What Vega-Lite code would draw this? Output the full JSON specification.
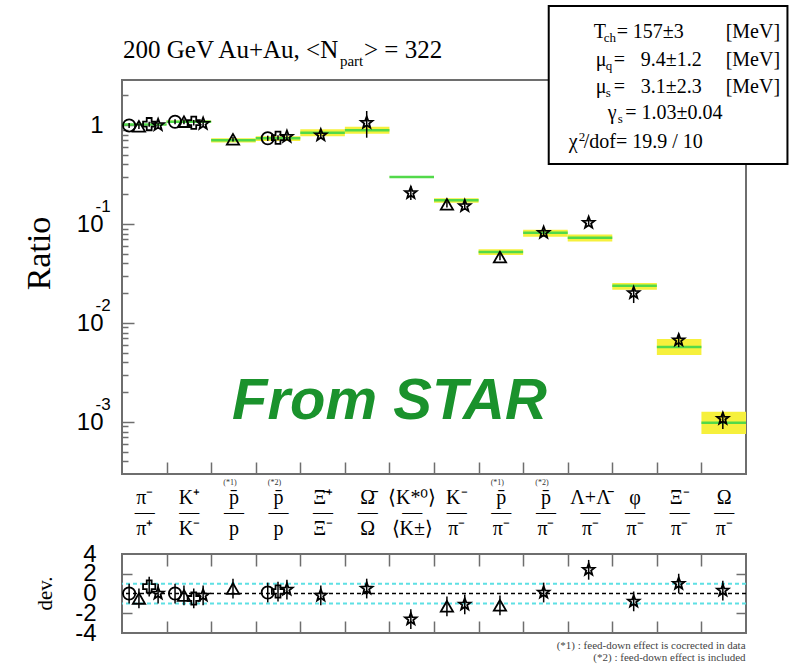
{
  "$schema": "https://vega.github.io/schema/vega-lite/v6.json",
  "background": "white",
  "padding": {"left": 21, "top": 4, "right": 0, "bottom": 0},
  "bounds": "flush",
  "spacing": 80,
  "resolve": {"scale": {"x": "independent", "y": "independent"}},
  "config": {
    "view": {"stroke": "#6e6e6e", "strokeWidth": 2},
    "axis": {
      "grid": false,
      "domain": false,
      "labelFlush": false,
      "labelOverlap": false,
      "labelBound": false,
      "labelColor": "black",
      "tickColor": "#6e6e6e",
      "tickWidth": 1.5,
      "titleColor": "black",
      "titleFontWeight": "normal"
    },
    "text": {"font": "Liberation Serif", "color": "black"}
  },
  "datasets": {
    "model": [
      {"ratio": "π⁻/π⁺", "from": 0, "to": 1, "model": 1.01, "low": 1.0, "high": 1.025},
      {"ratio": "K⁺/K⁻", "from": 1, "to": 2, "model": 1.08, "low": 1.05, "high": 1.11},
      {"ratio": "p̄/p (*1)", "from": 2, "to": 3, "model": 0.70, "low": 0.665, "high": 0.734},
      {"ratio": "p̄/p (*2)", "from": 3, "to": 4, "model": 0.734, "low": 0.69, "high": 0.77},
      {"ratio": "Ξ̄⁺/Ξ⁻", "from": 4, "to": 5, "model": 0.836, "low": 0.77, "high": 0.905},
      {"ratio": "Ω̄/Ω", "from": 5, "to": 6, "model": 0.884, "low": 0.817, "high": 0.96},
      {"ratio": "⟨K*⁰⟩/⟨K±⟩", "from": 6, "to": 7, "model": 0.298, "low": 0.296, "high": 0.300},
      {"ratio": "K⁻/π⁻", "from": 7, "to": 8, "model": 0.174, "low": 0.164, "high": 0.182},
      {"ratio": "p̄/π⁻ (*1)", "from": 8, "to": 9, "model": 0.052, "low": 0.0485, "high": 0.0555},
      {"ratio": "p̄/π⁻ (*2)", "from": 9, "to": 10, "model": 0.0817, "low": 0.0745, "high": 0.0874},
      {"ratio": "(Λ+Λ̄)/π⁻", "from": 10, "to": 11, "model": 0.0726, "low": 0.0664, "high": 0.0785},
      {"ratio": "φ/π⁻", "from": 11, "to": 12, "model": 0.0237, "low": 0.0216, "high": 0.0253},
      {"ratio": "Ξ⁻/π⁻", "from": 12, "to": 13, "model": 0.00572, "low": 0.00475, "high": 0.00689},
      {"ratio": "Ω/π⁻", "from": 13, "to": 14, "model": 0.000982, "low": 0.000757, "high": 0.00127}
    ],
    "measured": [
      {"pos": 0.16, "symbol": "circle", "value": 0.99, "low": 0.93, "high": 1.05},
      {"pos": 0.38, "symbol": "triangle", "value": 0.97, "low": 0.91, "high": 1.03},
      {"pos": 0.61, "symbol": "cross", "value": 1.02, "low": 0.96, "high": 1.08},
      {"pos": 0.81, "symbol": "star", "value": 1.0, "low": 0.94, "high": 1.06},
      {"pos": 1.19, "symbol": "circle", "value": 1.08, "low": 1.02, "high": 1.14},
      {"pos": 1.39, "symbol": "triangle", "value": 1.08, "low": 1.02, "high": 1.14},
      {"pos": 1.61, "symbol": "cross", "value": 1.055, "low": 0.99, "high": 1.12},
      {"pos": 1.82, "symbol": "star", "value": 1.03, "low": 0.96, "high": 1.10},
      {"pos": 2.49, "symbol": "triangle", "value": 0.717, "low": 0.68, "high": 0.755},
      {"pos": 3.27, "symbol": "circle", "value": 0.734, "low": 0.69, "high": 0.78},
      {"pos": 3.50, "symbol": "cross", "value": 0.744, "low": 0.70, "high": 0.79},
      {"pos": 3.70, "symbol": "star", "value": 0.762, "low": 0.72, "high": 0.81},
      {"pos": 4.46, "symbol": "star", "value": 0.79, "low": 0.74, "high": 0.845},
      {"pos": 5.49, "symbol": "star", "value": 1.055, "low": 0.744, "high": 1.385},
      {"pos": 6.48, "symbol": "star", "value": 0.206, "low": 0.175, "high": 0.242},
      {"pos": 7.29, "symbol": "triangle", "value": 0.158, "low": 0.147, "high": 0.17},
      {"pos": 7.69, "symbol": "star", "value": 0.152, "low": 0.14, "high": 0.165},
      {"pos": 8.48, "symbol": "triangle", "value": 0.0464, "low": 0.043, "high": 0.05},
      {"pos": 9.46, "symbol": "star", "value": 0.0817, "low": 0.076, "high": 0.088},
      {"pos": 10.47, "symbol": "star", "value": 0.103, "low": 0.095, "high": 0.111},
      {"pos": 11.48, "symbol": "star", "value": 0.0201, "low": 0.0159, "high": 0.0226},
      {"pos": 12.49, "symbol": "star", "value": 0.0067, "low": 0.0057, "high": 0.0078},
      {"pos": 13.48, "symbol": "star", "value": 0.00108, "low": 0.00085, "high": 0.00126}
    ],
    "deviation": [
      {"pos": 0.16, "symbol": "circle", "dev": 0.0, "low": -1.0, "high": 1.0},
      {"pos": 0.38, "symbol": "triangle", "dev": -0.5, "low": -1.5, "high": 0.5},
      {"pos": 0.61, "symbol": "cross", "dev": 0.7, "low": -0.3, "high": 1.7},
      {"pos": 0.81, "symbol": "star", "dev": 0.0, "low": -1.0, "high": 1.0},
      {"pos": 1.19, "symbol": "circle", "dev": 0.0, "low": -1.0, "high": 1.0},
      {"pos": 1.39, "symbol": "triangle", "dev": -0.2, "low": -1.2, "high": 0.8},
      {"pos": 1.61, "symbol": "cross", "dev": -0.5, "low": -1.5, "high": 0.5},
      {"pos": 1.82, "symbol": "star", "dev": -0.2, "low": -1.2, "high": 0.8},
      {"pos": 2.49, "symbol": "triangle", "dev": 0.5, "low": -0.5, "high": 1.5},
      {"pos": 3.27, "symbol": "circle", "dev": 0.1, "low": -0.9, "high": 1.1},
      {"pos": 3.50, "symbol": "cross", "dev": 0.2, "low": -0.8, "high": 1.2},
      {"pos": 3.70, "symbol": "star", "dev": 0.4, "low": -0.6, "high": 1.4},
      {"pos": 4.46, "symbol": "star", "dev": -0.2, "low": -1.2, "high": 0.8},
      {"pos": 5.49, "symbol": "star", "dev": 0.5, "low": -0.5, "high": 1.5},
      {"pos": 6.48, "symbol": "star", "dev": -2.6, "low": -3.6, "high": -1.6},
      {"pos": 7.29, "symbol": "triangle", "dev": -1.3, "low": -2.3, "high": -0.3},
      {"pos": 7.69, "symbol": "star", "dev": -1.1, "low": -2.1, "high": -0.1},
      {"pos": 8.48, "symbol": "triangle", "dev": -1.2, "low": -2.2, "high": -0.2},
      {"pos": 9.46, "symbol": "star", "dev": 0.1, "low": -0.9, "high": 1.1},
      {"pos": 10.47, "symbol": "star", "dev": 2.4, "low": 1.4, "high": 3.4},
      {"pos": 11.48, "symbol": "star", "dev": -0.8, "low": -1.8, "high": 0.2},
      {"pos": 12.49, "symbol": "star", "dev": 1.0, "low": 0.0, "high": 2.0},
      {"pos": 13.48, "symbol": "star", "dev": 0.3, "low": -0.7, "high": 1.3}
    ],
    "boxText": [
      {"text": "T", "x": 10.583, "y": 7.566},
      {"text": "=", "x": 11.099, "y": 7.566},
      {"text": "157±3", "x": 11.457, "y": 7.566},
      {"text": "[MeV]", "x": 13.543, "y": 7.566},
      {"text": "μ", "x": 10.628, "y": 3.945},
      {"text": "=", "x": 11.031, "y": 3.945},
      {"text": "9.4±1.2", "x": 11.637, "y": 3.945},
      {"text": "[MeV]", "x": 13.543, "y": 3.945},
      {"text": "μ", "x": 10.628, "y": 2.105},
      {"text": "=", "x": 11.031, "y": 2.105},
      {"text": "3.1±2.3", "x": 11.637, "y": 2.105},
      {"text": "[MeV]", "x": 13.543, "y": 2.105},
      {"text": "γ", "x": 10.9, "y": 1.15},
      {"text": "= 1.03±0.04", "x": 11.29, "y": 1.15},
      {"text": "χ", "x": 10.022, "y": 0.5857},
      {"text": "/dof= 19.9 / 10", "x": 10.359, "y": 0.5857}
    ],
    "boxSub": [
      {"text": "ch", "x": 10.807, "y": 6.891},
      {"text": "q", "x": 10.852, "y": 3.594},
      {"text": "s", "x": 10.852, "y": 1.918},
      {"text": "s", "x": 11.124, "y": 1.047},
      {"text": "2", "x": 10.247, "y": 0.6895}
    ],
    "heading": [
      {"text": "200 GeV Au+Au, <N", "x": 0.0224, "y": 4.75},
      {"text": "> = 322", "x": 5.43, "y": 4.75}
    ],
    "headingSub": [
      {"text": "part", "x": 4.89, "y": 3.945}
    ]
  },
  "vconcat": [
    {
      "width": 624,
      "height": 394,
      "resolve": {"axis": {"x": "independent", "y": "independent"}},
      "layer": [
        {
          "data": {"name": "model"},
          "mark": {"type": "rect", "fill": "#f6f03c"},
          "encoding": {
            "x": {
              "field": "from", "type": "quantitative",
              "scale": {"domain": [0, 14], "nice": false, "zero": false},
              "axis": {
                "orient": "bottom", "title": null,
                "values": [0.5, 1.5, 2.5, 3.5, 4.5, 5.5, 6.5, 7.5, 8.5, 9.5, 10.5, 11.5, 12.5, 13.5],
                "labelExpr": "[['π⁻','—','π⁺'],['K⁺','—','K⁻'],['p̄','—','p'],['p̄','—','p'],['Ξ̄⁺','—','Ξ⁻'],['Ω̄','—','Ω'],['⟨K*⁰⟩','—','⟨K±⟩'],['K⁻','—','π⁻'],['p̄','—','π⁻'],['p̄','—','π⁻'],['Λ+Λ̄','—','π⁻'],['φ','—','π⁻'],['Ξ⁻','—','π⁻'],['Ω','—','π⁻']][floor(datum.value)]",
                "labelFont": "Liberation Serif", "labelFontSize": 20,
                "labelLineHeight": 15.5, "labelPadding": 13,
                "labelAlign": "center", "labelBaseline": "top",
                "ticks": false
              }
            },
            "x2": {"field": "to"},
            "y": {
              "field": "low", "type": "quantitative",
              "scale": {"type": "log", "domain": [0.000298, 2.848], "nice": false},
              "axis": {
                "orient": "left",
                "values": [1, 0.1, 0.01, 0.001],
                "labelExpr": "datum.value > 0.5 ? '1' : '10\u2002'",
                "labelFont": "Liberation Sans", "labelFontSize": 24,
                "labelPadding": 19, "labelOffset": 1, "ticks": false,
                "title": "Ratio", "titleFont": "Liberation Serif", "titleFontSize": 34,
                "titleAngle": 270, "titleAlign": "center", "titleBaseline": "alphabetic",
                "titleX": -73, "titleY": 173
              }
            },
            "y2": {"field": "high"}
          }
        },
        {
          "data": {"name": "model"},
          "mark": {"type": "rule", "stroke": "#52d94a", "strokeWidth": 2.5},
          "encoding": {
            "x": {
              "field": "from", "type": "quantitative",
              "axis": {"orient": "bottom", "title": null, "values": [1, 2, 3, 4, 5, 6, 7, 8, 9, 10, 11, 12, 13], "labels": false, "tickSize": -12}
            },
            "x2": {"field": "to"},
            "y": {
              "field": "model", "type": "quantitative",
              "axis": {
                "orient": "left", "title": null,
                "values": [0.1, 0.01, 0.001],
                "labelExpr": "datum.value > 0.05 ? '-1' : datum.value > 0.005 ? '-2' : '-3'",
                "labelFont": "Liberation Sans", "labelFontSize": 17,
                "labelAlign": "left", "labelPadding": 27, "labelOffset": -17, "ticks": false
              }
            }
          }
        },
        {
          "data": {"name": "measured"},
          "mark": {"type": "rule", "stroke": "black", "strokeWidth": 1.5},
          "encoding": {
            "x": {
              "field": "pos", "type": "quantitative",
              "axis": {
                "orient": "bottom", "title": null,
                "values": [2.5, 3.5, 8.5, 9.5],
                "labelExpr": "datum.value == 2.5 || datum.value == 8.5 ? '(*1)' : '(*2)'",
                "labelFont": "Liberation Serif", "labelFontSize": 8, "labelColor": "#333",
                "labelPadding": 4, "labelOffset": -4, "ticks": false
              }
            },
            "y": {
              "field": "low", "type": "quantitative",
              "axis": {"orient": "left", "title": null, "values": [1, 0.1, 0.01, 0.001], "labels": false, "tickSize": -12}
            },
            "y2": {"field": "high"}
          }
        },
        {
          "data": {"name": "measured"},
          "mark": {"type": "point", "filled": false, "stroke": "black", "strokeWidth": 1.8, "size": 150, "opacity": 1},
          "encoding": {
            "x": {"field": "pos", "type": "quantitative", "axis": null},
            "y": {
              "field": "value", "type": "quantitative",
              "axis": {
                "orient": "left", "title": null, "labels": false, "tickSize": -6,
                "values": [0.0004, 0.0005, 0.0006, 0.0007, 0.0008, 0.0009, 0.002, 0.003, 0.004, 0.005, 0.006, 0.007, 0.008, 0.009, 0.02, 0.03, 0.04, 0.05, 0.06, 0.07, 0.08, 0.09, 0.2, 0.3, 0.4, 0.5, 0.6, 0.7, 0.8, 0.9, 2]
              }
            },
            "shape": {
              "field": "symbol", "type": "nominal", "legend": null,
              "scale": {
                "domain": ["circle", "triangle", "cross", "star"],
                "range": ["circle", "triangle-up", "cross", "M0,-1L0.247,-0.34L0.951,-0.309L0.399,0.13L0.588,0.809L0,0.42L-0.588,0.809L-0.399,0.13L-0.951,-0.309L-0.247,-0.34Z"]
              }
            }
          }
        },
        {
          "data": {"values": [{}]},
          "mark": {"type": "rect", "fill": "white", "stroke": "black", "strokeWidth": 2},
          "encoding": {
            "x": {"datum": 9.574, "type": "quantitative", "axis": null},
            "x2": {"datum": 14.93},
            "y": {"datum": 15.92, "type": "quantitative", "axis": null},
            "y2": {"datum": 0.4037}
          }
        },
        {
          "data": {"name": "boxText"},
          "mark": {"type": "text", "align": "left", "baseline": "alphabetic", "fontSize": 20},
          "encoding": {
            "x": {"field": "x", "type": "quantitative", "axis": null},
            "y": {"field": "y", "type": "quantitative", "axis": null},
            "text": {"field": "text"}
          }
        },
        {
          "data": {"name": "boxSub"},
          "mark": {"type": "text", "align": "left", "baseline": "alphabetic", "fontSize": 13},
          "encoding": {
            "x": {"field": "x", "type": "quantitative", "axis": null},
            "y": {"field": "y", "type": "quantitative", "axis": null},
            "text": {"field": "text"}
          }
        },
        {
          "data": {"name": "heading"},
          "mark": {"type": "text", "align": "left", "baseline": "alphabetic", "fontSize": 25},
          "encoding": {
            "x": {"field": "x", "type": "quantitative", "axis": null},
            "y": {"field": "y", "type": "quantitative", "axis": null},
            "text": {"field": "text"}
          }
        },
        {
          "data": {"name": "headingSub"},
          "mark": {"type": "text", "align": "left", "baseline": "alphabetic", "fontSize": 15},
          "encoding": {
            "x": {"field": "x", "type": "quantitative", "axis": null},
            "y": {"field": "y", "type": "quantitative", "axis": null},
            "text": {"field": "text"}
          }
        },
        {
          "data": {"values": [{}]},
          "mark": {"type": "text", "text": "From STAR", "font": "Liberation Sans", "fontSize": 58, "fontWeight": "bold", "fontStyle": "italic", "fill": "#1a922c", "align": "center", "baseline": "alphabetic"},
          "encoding": {
            "x": {"datum": 6.0, "type": "quantitative", "axis": null},
            "y": {"datum": 0.00107, "type": "quantitative", "axis": null}
          }
        }
      ]
    },
    {
      "width": 624,
      "height": 79,
      "resolve": {"axis": {"x": "independent", "y": "independent"}},
      "layer": [
        {
          "data": {"values": [{}]},
          "mark": {"type": "rule", "stroke": "#5ee0e4", "strokeWidth": 2, "strokeDash": [4, 3]},
          "encoding": {
            "y": {
              "datum": 1, "type": "quantitative",
              "axis": {"orient": "right", "title": null, "values": [-2, 2], "labels": false, "tickSize": -10}
            }
          }
        },
        {
          "data": {"values": [{}]},
          "mark": {"type": "rule", "stroke": "#5ee0e4", "strokeWidth": 2, "strokeDash": [4, 3]},
          "encoding": {"y": {"datum": -1, "type": "quantitative", "axis": null}}
        },
        {
          "data": {"values": [{}]},
          "mark": {"type": "rule", "stroke": "black", "strokeWidth": 1.5, "strokeDash": [4, 3]},
          "encoding": {"y": {"datum": 0, "type": "quantitative", "axis": null}}
        },
        {
          "data": {"name": "deviation"},
          "mark": {"type": "rule", "stroke": "black", "strokeWidth": 1.5},
          "encoding": {
            "x": {
              "field": "pos", "type": "quantitative",
              "scale": {"domain": [0, 14], "nice": false, "zero": false},
              "axis": {"orient": "bottom", "title": null, "values": [1, 2, 3, 4, 5, 6, 7, 8, 9, 10, 11, 12, 13], "labels": false, "tickSize": -12}
            },
            "y": {
              "field": "low", "type": "quantitative",
              "scale": {"domain": [-4, 4], "nice": false, "zero": false},
              "axis": {
                "orient": "left", "values": [4, 2, 0, -2, -4],
                "labelExpr": "datum.value < 0 ? '-' + abs(datum.value) : '' + datum.value",
                "labelFont": "Liberation Sans", "labelFontSize": 24, "labelPadding": 26, "ticks": false,
                "title": "dev.", "titleFont": "Liberation Serif", "titleFontSize": 21,
                "titleAngle": 270, "titleAlign": "center", "titleBaseline": "alphabetic",
                "titleX": -71, "titleY": 39
              }
            },
            "y2": {"field": "high"}
          }
        },
        {
          "data": {"name": "deviation"},
          "mark": {"type": "point", "filled": false, "stroke": "black", "strokeWidth": 1.8, "size": 150, "opacity": 1},
          "encoding": {
            "x": {
              "field": "pos", "type": "quantitative",
              "axis": {"orient": "top", "title": null, "values": [1, 2, 3, 4, 5, 6, 7, 8, 9, 10, 11, 12, 13], "labels": false, "tickSize": -12}
            },
            "y": {
              "field": "dev", "type": "quantitative",
              "axis": {"orient": "left", "title": null, "values": [-2, 2], "labels": false, "tickSize": -10}
            },
            "shape": {"field": "symbol", "type": "nominal", "legend": null}
          }
        },
        {
          "data": {"values": [{}]},
          "mark": {"type": "text", "text": "(*1) : feed-down effect is cocrected in data", "fontSize": 11, "fill": "#444", "align": "right", "baseline": "alphabetic"},
          "encoding": {
            "x": {"datum": 13.99, "type": "quantitative", "axis": null},
            "y": {"datum": -5.62, "type": "quantitative", "axis": null}
          }
        },
        {
          "data": {"values": [{}]},
          "mark": {"type": "text", "text": "(*2) : feed-down effect is included", "fontSize": 11, "fill": "#444", "align": "right", "baseline": "alphabetic"},
          "encoding": {
            "x": {"datum": 13.99, "type": "quantitative", "axis": null},
            "y": {"datum": -6.84, "type": "quantitative", "axis": null}
          }
        }
      ]
    }
  ]
}
